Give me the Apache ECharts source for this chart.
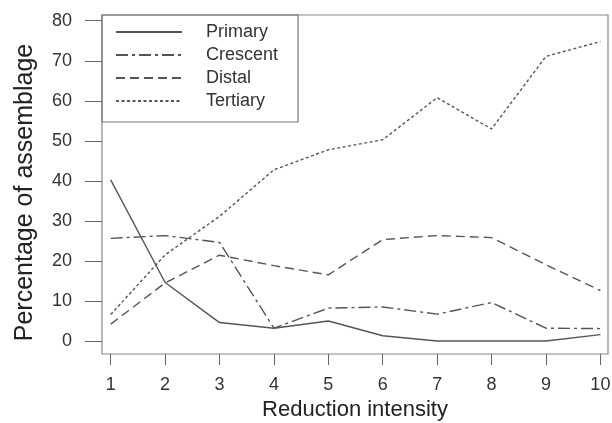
<!DOCTYPE html>
<html>
<head>
    <meta charset="utf-8">
    <title>Reduction intensity</title>
    <script src="https://cdn.jsdelivr.net/npm/echarts@6/dist/echarts.min.js"></script>
</head>
<body style="margin:0">

<div id="main" style="width: 612px;height:423px;"></div>

<script type="text/javascript">
    // data
    var xTicks = [1, 2, 3, 4, 5, 6, 7, 8, 9, 10];
    var yTicks = [0, 10, 20, 30, 40, 50, 60, 70, 80];
    var names = ['Primary', 'Crescent', 'Distal', 'Tertiary'];
    var primary = [40.3, 14.7, 4.7, 3.3, 5.1, 1.4, 0.1, 0.1, 0.1, 1.7];
    var crescent = [25.7, 26.4, 24.7, 3.3, 8.3, 8.6, 6.8, 9.7, 3.3, 3.2];
    var distal = [4.3, 14.6, 21.5, 18.9, 16.6, 25.4, 26.4, 25.9, 19.1, 12.7];
    var tertiary = [6.7, 21.6, 31.2, 42.8, 47.8, 50.3, 60.8, 53.0, 71.1, 74.8];

    var lineColor = '#555';
    var dashes = ['solid', [12, 4, 3, 4], [9, 5], [3, 2.5]];
    var values = [primary, crescent, distal, tertiary];

    var myChart = echarts.init(document.getElementById('main'));

    var series = [];
    for (var i = 0; i < names.length; i++) {
        var pts = [];
        for (var j = 0; j < xTicks.length; j++) {
            pts.push([xTicks[j], values[i][j]]);
        }
        series.push({
            name: names[i],
            type: 'line',
            symbol: 'none',
            data: pts,
            lineStyle: {color: lineColor, width: 1.4, type: dashes[i]},
            itemStyle: {color: lineColor}
        });
    }

    var font = 'Liberation Sans, Arial, sans-serif';

    myChart.setOption({
        animation: false,
        textStyle: {fontFamily: font},
        grid: {
            left: 102, right: 4, top: 15, bottom: 69,
            outerBoundsMode: 'none',
            show: true, borderColor: '#888', borderWidth: 1.2
        },
        legend: {
            data: names,
            orient: 'vertical',
            left: 102, top: 15,
            padding: [8, 20, 12, 13],
            itemWidth: 66, itemHeight: 14, itemGap: 5,
            borderColor: '#777', borderWidth: 1.2,
            itemStyle: {opacity: 0},
            textStyle: {fontSize: 18, color: '#333', padding: [0, 0, 0, 19], fontFamily: font}
        },
        xAxis: {
            type: 'value',
            min: 0.84, max: 10.14,
            name: 'Reduction intensity',
            nameLocation: 'middle',
            nameGap: 44,
            nameTextStyle: {fontSize: 22, color: '#222'},
            axisLine: {show: false, onZero: false},
            splitLine: {show: false},
            axisTick: {show: true, length: 11, lineStyle: {color: '#666'}, customValues: xTicks},
            axisLabel: {fontSize: 18, color: '#333', margin: 22, customValues: xTicks}
        },
        yAxis: {
            type: 'value',
            min: -3.14, max: 81.42,
            name: 'Percentage of assemblage',
            nameLocation: 'middle',
            nameGap: 64,
            nameTextStyle: {fontSize: 25, color: '#222', padding: [0, 16, 0, 0]},
            axisLine: {show: false, onZero: false},
            splitLine: {show: false},
            axisTick: {show: true, length: 17, lineStyle: {color: '#666'}, customValues: yTicks},
            axisLabel: {fontSize: 18, color: '#333', margin: 30, customValues: yTicks}
        },
        series: series
    });
</script>
</body>
</html>
